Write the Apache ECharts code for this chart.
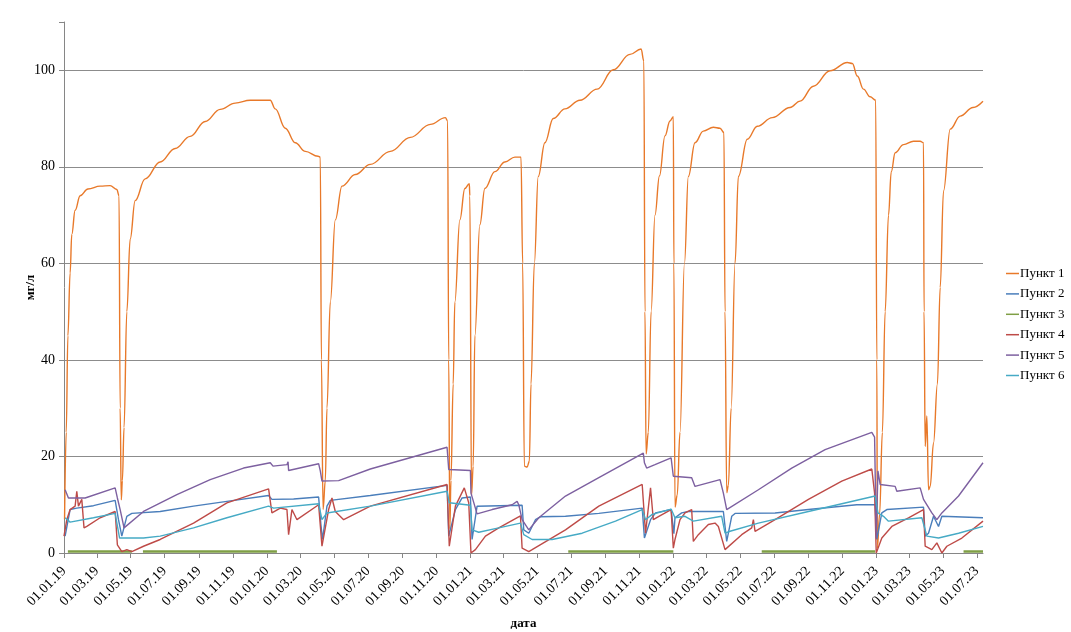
<!DOCTYPE html>
<html>
<head>
<meta charset="utf-8">
<title>Пункты</title>
<script src="https://cdn.jsdelivr.net/npm/echarts@6/dist/echarts.min.js"></script>
<style>
  html, body { margin: 0; padding: 0; background: #fff; }
  #chart { width: 1071px; height: 632px; }
</style>
</head>
<body>
<div id="chart"></div>
<script>
// период наблюдений (по дням)
var startDate = '2019-01-01';
var endDate = '2023-07-12';

var seriesNames = ['Пункт 1', 'Пункт 2', 'Пункт 3', 'Пункт 4', 'Пункт 5', 'Пункт 6'];
var seriesColors = ['#E8792A', '#4A7EBB', '#7F9F45', '#BE4B48', '#7D60A0', '#46AAC5'];

var yTicks = [0, 20, 40, 60, 80, 100];

// значения, мг/л  [дата, значение]
var punkt1 = [
  ['2019-01-02', 7], ['2019-01-05', 25], ['2019-01-08', 45], ['2019-01-12', 58], ['2019-01-15', 66],
  ['2019-01-21', 71], ['2019-01-30', 74], ['2019-02-13', 75.4], ['2019-03-07', 76], ['2019-03-25', 76.1],
  ['2019-04-06', 75.3], ['2019-04-10', 74], ['2019-04-12', 30], ['2019-04-14', 11], ['2019-04-16', 15],
  ['2019-04-19', 26], ['2019-04-24', 50], ['2019-04-30', 65], ['2019-05-09', 73], ['2019-05-27', 77.5],
  ['2019-06-23', 81], ['2019-07-20', 83.8], ['2019-08-16', 86.3], ['2019-09-12', 89.4], ['2019-10-09', 91.9],
  ['2019-11-05', 93.2], ['2019-12-02', 93.8], ['2020-01-07', 93.8], ['2020-01-16', 92], ['2020-02-03', 88],
  ['2020-02-21', 85], ['2020-03-10', 83.2], ['2020-04-02', 82.2], ['2020-04-06', 82], ['2020-04-08', 40],
  ['2020-04-11', 9], ['2020-04-15', 15], ['2020-04-18', 30], ['2020-04-24', 52], ['2020-05-03', 69],
  ['2020-05-15', 76], ['2020-06-08', 78.4], ['2020-07-05', 80.5], ['2020-08-10', 83.2], ['2020-09-15', 86.1],
  ['2020-10-21', 88.8], ['2020-11-17', 90.2], ['2020-11-21', 89.5], ['2020-11-23', 40], ['2020-11-25', 5],
  ['2020-11-27', 15], ['2020-12-01', 35], ['2020-12-04', 52], ['2020-12-13', 69], ['2020-12-22', 75.5],
  ['2020-12-30', 76.5], ['2020-12-31', 74], ['2021-01-03', 12], ['2021-01-06', 18], ['2021-01-09', 45],
  ['2021-01-18', 68], ['2021-01-27', 75.5], ['2021-02-14', 79], ['2021-03-04', 81], ['2021-03-22', 82],
  ['2021-04-02', 82], ['2021-04-05', 60], ['2021-04-08', 18], ['2021-04-13', 17.8], ['2021-04-17', 19],
  ['2021-04-20', 35], ['2021-04-26', 60], ['2021-05-03', 78], ['2021-05-15', 85], ['2021-05-30', 90],
  ['2021-06-20', 92], ['2021-07-17', 93.8], ['2021-08-17', 96.1], ['2021-09-15', 100.1], ['2021-10-15', 103.3],
  ['2021-11-04', 104.4], ['2021-11-09', 101.9], ['2021-11-11', 50], ['2021-11-13', 20.5], ['2021-11-17', 25],
  ['2021-11-22', 50], ['2021-11-29', 70], ['2021-12-07', 78.1], ['2021-12-17', 86.4], ['2021-12-26', 89.5],
  ['2022-01-01', 90.4], ['2022-01-02', 60], ['2022-01-04', 9.5], ['2022-01-08', 12], ['2022-01-13', 25],
  ['2022-01-21', 60], ['2022-01-28', 78], ['2022-02-09', 85], ['2022-02-24', 87.4], ['2022-03-14', 88.2],
  ['2022-03-26', 88], ['2022-04-02', 87.1], ['2022-04-04', 50], ['2022-04-07', 12.5], ['2022-04-10', 14],
  ['2022-04-15', 30], ['2022-04-22', 60], ['2022-04-28', 78], ['2022-05-14', 85.7], ['2022-06-01', 88.4],
  ['2022-06-28', 90.2], ['2022-07-30', 92.3], ['2022-08-17', 93.6], ['2022-09-10', 96.7], ['2022-10-10', 99.9],
  ['2022-11-10', 101.6], ['2022-11-19', 101.4], ['2022-11-28', 98.8], ['2022-12-09', 96.1], ['2022-12-21', 94.5],
  ['2022-12-31', 93.8], ['2023-01-02', 40], ['2023-01-03', 1], ['2023-01-07', 8], ['2023-01-12', 25],
  ['2023-01-17', 50], ['2023-01-23', 70], ['2023-01-28', 79], ['2023-02-04', 82.9], ['2023-02-19', 84.6],
  ['2023-03-09', 85.3], ['2023-03-21', 85.3], ['2023-03-27', 85], ['2023-03-28', 50], ['2023-03-30', 22.1],
  ['2023-04-02', 28.4], ['2023-04-05', 13.1], ['2023-04-08', 13.8], ['2023-04-14', 22.8], ['2023-04-21', 35],
  ['2023-04-26', 55], ['2023-05-02', 75], ['2023-05-14', 87.8], ['2023-06-01', 90.5], ['2023-06-24', 92.3],
  ['2023-07-12', 93.6]
];

var punkt2 = [
  ['2019-01-03', 3.5], ['2019-01-12', 9.0], ['2019-01-24', 9.3], ['2019-02-23', 9.8], ['2019-04-03', 10.9],
  ['2019-04-09', 6.9], ['2019-04-15', 3.5], ['2019-04-24', 7.6], ['2019-05-03', 8.2], ['2019-06-23', 8.6],
  ['2019-08-22', 9.7], ['2019-10-21', 10.7], ['2020-01-04', 11.9], ['2020-01-10', 11.1], ['2020-02-18', 11.2],
  ['2020-04-03', 11.6], ['2020-04-07', 6], ['2020-04-10', 2.8], ['2020-04-18', 9.7], ['2020-04-24', 10.9],
  ['2020-07-05', 11.9], ['2020-11-20', 14.0], ['2020-11-23', 3.5], ['2020-12-05', 9.0], ['2020-12-17', 11.4],
  ['2021-01-01', 11.6], ['2021-01-04', 2.8], ['2021-01-13', 9.7], ['2021-04-04', 9.9], ['2021-04-07', 4.8],
  ['2021-04-16', 4.1], ['2021-04-28', 6.9], ['2021-05-07', 7.5], ['2021-06-21', 7.6], ['2021-08-20', 8.2],
  ['2021-11-06', 9.3], ['2021-11-10', 3.1], ['2021-11-21', 6.9], ['2021-11-30', 8.3], ['2021-12-28', 9.0],
  ['2022-01-02', 4], ['2022-01-04', 7.3], ['2022-01-16', 8.3], ['2022-01-28', 8.6], ['2022-04-01', 8.6],
  ['2022-04-07', 2.4], ['2022-04-16', 7.6], ['2022-04-22', 8.2], ['2022-07-03', 8.3], ['2022-09-01', 9.0],
  ['2022-11-27', 10.0], ['2022-12-30', 10.0], ['2023-01-02', 2.8], ['2023-01-11', 8.3], ['2023-01-20', 9.0],
  ['2023-03-27', 9.5], ['2023-03-30', 3.5], ['2023-04-05', 4.1], ['2023-04-14', 7.6], ['2023-04-23', 5.5],
  ['2023-04-29', 7.6], ['2023-07-12', 7.3]
];

// Пункт 3 – около нуля, с пропусками ('-' = нет данных)
var punkt3 = [
  ['2019-01-08', 0.3], ['2019-05-03', 0.3], ['2019-05-13', '-'],
  ['2019-05-23', 0.3], ['2020-01-19', 0.3], ['2020-06-01', '-'],
  ['2021-06-26', 0.3], ['2022-01-01', 0.3], ['2022-03-01', '-'],
  ['2022-06-09', 0.3], ['2022-12-30', 0.3], ['2023-03-01', '-'],
  ['2023-06-07', 0.3], ['2023-07-12', 0.3]
];

var punkt4 = [
  ['2019-01-01', 3.5], ['2019-01-06', 6.9], ['2019-01-12', 9.0], ['2019-01-21', 9.7], ['2019-01-24', 12.8],
  ['2019-01-27', 9.7], ['2019-02-02', 11.1], ['2019-02-06', 5.2], ['2019-02-11', 5.5], ['2019-03-07', 7.3],
  ['2019-04-03', 8.6], ['2019-04-07', 1.7], ['2019-04-15', 0.3], ['2019-04-24', 0.7], ['2019-05-03', 0.3],
  ['2019-05-24', 1.4], ['2019-06-23', 2.8], ['2019-08-22', 6.2], ['2019-10-21', 10.4], ['2020-01-04', 13.3],
  ['2020-01-10', 8.3], ['2020-01-25', 9.3], ['2020-02-06', 9.0], ['2020-02-09', 3.8], ['2020-02-15', 9.0],
  ['2020-02-24', 6.9], ['2020-04-03', 10.0], ['2020-04-09', 1.4], ['2020-04-21', 9.0], ['2020-04-27', 11.4],
  ['2020-05-03', 8.6], ['2020-05-18', 6.9], ['2020-07-05', 9.7], ['2020-11-20', 14.2], ['2020-11-24', 1.4],
  ['2020-12-05', 9.7], ['2020-12-21', 13.5], ['2020-12-29', 10.4], ['2021-01-02', 0], ['2021-01-10', 0.7],
  ['2021-01-28', 3.5], ['2021-02-21', 5.2], ['2021-04-01', 7.7], ['2021-04-04', 1.0], ['2021-04-16', 0.3],
  ['2021-04-22', 0.7], ['2021-06-21', 4.8], ['2021-08-20', 9.7], ['2021-11-06', 14.2], ['2021-11-12', 4.1],
  ['2021-11-21', 13.5], ['2021-11-26', 6.9], ['2021-12-06', 7.6], ['2021-12-28', 9.0], ['2022-01-01', 1.0],
  ['2022-01-04', 2.8], ['2022-01-13', 6.9], ['2022-01-22', 8.3], ['2022-02-03', 9.0], ['2022-02-06', 2.4],
  ['2022-02-15', 3.8], ['2022-03-05', 5.9], ['2022-03-17', 6.2], ['2022-03-23', 5.5], ['2022-04-04', 0.7],
  ['2022-04-07', 0.3], ['2022-05-04', 3.8], ['2022-05-22', 5.2], ['2022-05-25', 6.9], ['2022-05-28', 4.5],
  ['2022-07-03', 6.9], ['2022-09-01', 11.1], ['2022-10-31', 14.9], ['2022-12-24', 17.4], ['2022-12-29', 12.4],
  ['2023-01-01', 0], ['2023-01-11', 3.1], ['2023-01-29', 5.5], ['2023-02-28', 7.3], ['2023-03-27', 9.0],
  ['2023-03-30', 1.4], ['2023-04-11', 0.7], ['2023-04-20', 2.1], ['2023-04-29', 0], ['2023-05-08', 1.4],
  ['2023-06-04', 3.1], ['2023-07-12', 6.6]
];

var punkt5 = [
  ['2019-01-03', 13.1], ['2019-01-09', 11.4], ['2019-02-08', 11.4], ['2019-04-03', 13.5], ['2019-04-07', 11.4],
  ['2019-04-12', 9.0], ['2019-04-19', 5.2], ['2019-05-24', 8.6], ['2019-07-23', 12.1], ['2019-09-21', 15.2],
  ['2019-11-20', 17.6], ['2020-01-07', 18.7], ['2020-01-12', 18.0], ['2020-02-06', 18.3], ['2020-02-08', 18.9],
  ['2020-02-09', 17.1], ['2020-04-03', 18.5], ['2020-04-06', 17], ['2020-04-09', 14.9], ['2020-05-09', 15.0],
  ['2020-07-05', 17.4], ['2020-11-20', 21.9], ['2020-11-23', 17.3], ['2021-01-01', 17.1], ['2021-01-02', 12.4],
  ['2021-01-13', 8.1], ['2021-02-09', 9.0], ['2021-03-17', 10.0], ['2021-03-26', 10.7], ['2021-03-29', 10.0],
  ['2021-04-04', 6.9], ['2021-04-16', 4.8], ['2021-05-04', 7.3], ['2021-06-21', 11.8], ['2021-08-20', 15.6],
  ['2021-11-08', 20.7], ['2021-11-10', 18.7], ['2021-11-14', 17.6], ['2021-11-29', 18.3], ['2021-12-28', 19.7],
  ['2022-01-01', 15.9], ['2022-02-03', 15.6], ['2022-02-09', 13.8], ['2022-03-26', 15.2], ['2022-04-01', 12.4],
  ['2022-04-07', 9.0], ['2022-06-03', 13.1], ['2022-08-02', 17.6], ['2022-10-01', 21.4], ['2022-12-24', 25.0],
  ['2022-12-29', 24], ['2023-01-01', 3], ['2023-01-04', 17], ['2023-01-08', 14.2], ['2023-02-04', 13.8],
  ['2023-02-07', 12.8], ['2023-03-21', 13.5], ['2023-03-27', 11.1], ['2023-04-11', 8.3], ['2023-04-20', 6.9],
  ['2023-04-29', 8.3], ['2023-05-29', 11.8], ['2023-07-12', 18.7]
];

var punkt6 = [
  ['2019-01-03', 7.3], ['2019-01-12', 6.4], ['2019-02-23', 7.3], ['2019-04-03', 8.2], ['2019-04-11', 3.1],
  ['2019-05-24', 3.1], ['2019-06-23', 3.5], ['2019-08-22', 5.2], ['2019-10-21', 7.3], ['2020-01-04', 9.7],
  ['2020-01-13', 9.3], ['2020-04-03', 10.2], ['2020-04-09', 6.9], ['2020-04-18', 8.3], ['2020-07-05', 9.7],
  ['2020-11-20', 12.8], ['2020-11-24', 10.4], ['2021-01-01', 9.9], ['2021-01-04', 4.8], ['2021-01-16', 4.3],
  ['2021-02-21', 5.2], ['2021-04-01', 6.2], ['2021-04-07', 3.8], ['2021-04-22', 2.8], ['2021-05-28', 2.8],
  ['2021-07-21', 4.1], ['2021-09-19', 6.6], ['2021-11-06', 9.0], ['2021-11-12', 6.9], ['2021-11-24', 8.0],
  ['2021-12-28', 9.1], ['2022-01-04', 7.3], ['2022-01-22', 7.6], ['2022-02-06', 6.6], ['2022-03-29', 7.6],
  ['2022-04-04', 4.1], ['2022-04-13', 4.5], ['2022-06-03', 6.2], ['2022-09-01', 8.6], ['2022-12-30', 11.8],
  ['2023-01-04', 8.3], ['2023-01-14', 7.6], ['2023-01-23', 6.6], ['2023-03-24', 7.3], ['2023-04-02', 3.5],
  ['2023-04-23', 3.1], ['2023-05-29', 4.1], ['2023-07-12', 5.5]
];

// ежедневные категории оси X
function buildDays(from, to) {
  var out = [];
  var d = new Date(from + 'T00:00:00Z');
  var end = new Date(to + 'T00:00:00Z');
  while (d <= end) {
    out.push(d.toISOString().slice(0, 10));
    d.setUTCDate(d.getUTCDate() + 1);
  }
  return out;
}
var days = buildDays(startDate, endDate);
var dayIndex = {};
days.forEach(function (s, i) { dayIndex[s] = i; });

function toPoints(arr) {
  return arr.map(function (p) { return [dayIndex[p[0]], p[1]]; });
}

// подпись раз в два месяца: 01.01, 01.03, 01.05 ...
function isTickDay(index, value) {
  var m = +value.slice(5, 7);
  return value.slice(8) === '01' && m % 2 === 1;
}

var allData = [punkt1, punkt2, punkt3, punkt4, punkt5, punkt6];
var series = allData.map(function (arr, i) {
  return {
    name: seriesNames[i],
    type: 'line',
    data: toPoints(arr),
    symbol: 'none',
    smooth: i === 0 ? 0.4 : false,
    smoothMonotone: 'x',
    connectNulls: false,
    lineStyle: { width: i === 2 ? 2.6 : 1.4, color: seriesColors[i] },
    itemStyle: { color: seriesColors[i] }
  };
});

var chart = echarts.init(document.getElementById('chart'));
chart.setOption({
  animation: false,
  backgroundColor: '#fff',
  textStyle: { fontFamily: 'Liberation Serif', color: '#000' },
  grid: { left: 64, right: 88, top: 22, bottom: 79, containLabel: false, outerBoundsMode: 'none' },
  legend: {
    orient: 'vertical',
    left: 1001,
    top: 261,
    icon: 'rect',
    itemWidth: 13,
    itemHeight: 1.5,
    itemGap: 5.4,
    textStyle: { fontFamily: 'Liberation Serif', fontSize: 13, color: '#000', lineHeight: 15, padding: [0, 0, 0, -4] },
    data: seriesNames
  },
  xAxis: {
    type: 'category',
    data: days,
    boundaryGap: false,
    name: 'дата',
    nameLocation: 'middle',
    nameGap: 64,
    nameMoveOverlap: false,
    nameTextStyle: { fontFamily: 'Liberation Serif', fontWeight: 'bold', fontSize: 13, color: '#000' },
    axisLine: { lineStyle: { color: '#868686', width: 1 } },
    axisTick: { show: true, interval: isTickDay, length: 5, lineStyle: { color: '#868686' } },
    axisLabel: {
      interval: isTickDay,
      rotate: 45,
      margin: 16,
      fontFamily: 'Liberation Serif',
      fontSize: 14,
      color: '#000',
      formatter: function (v) {
        return v.slice(8, 10) + '.' + v.slice(5, 7) + '.' + v.slice(2, 4);
      }
    },
    splitLine: { show: false }
  },
  yAxis: {
    type: 'value',
    min: 0,
    max: 110,
    interval: 20,
    name: 'мг/л',
    nameLocation: 'middle',
    nameRotate: 90,
    nameGap: 27,
    nameMoveOverlap: false,
    nameTextStyle: { fontFamily: 'Liberation Serif', fontWeight: 'bold', fontSize: 13, color: '#000' },
    axisLine: { show: true, lineStyle: { color: '#868686', width: 1 } },
    axisTick: { show: true, length: 5, lineStyle: { color: '#868686' } },
    axisLabel: {
      fontFamily: 'Liberation Serif',
      fontSize: 14,
      color: '#000',
      margin: 9,
      formatter: function (v) { return yTicks.indexOf(v) >= 0 ? String(v) : ''; }
    },
    splitLine: {
      show: true,
      lineStyle: {
        width: 1,
        // линии на 0..100, на верхней границе (110) линии нет
        color: ['#8c8c8c', '#8c8c8c', '#8c8c8c', '#8c8c8c', '#8c8c8c', '#8c8c8c', 'rgba(0,0,0,0)']
      }
    }
  },
  series: series
});
</script>
</body>
</html>
